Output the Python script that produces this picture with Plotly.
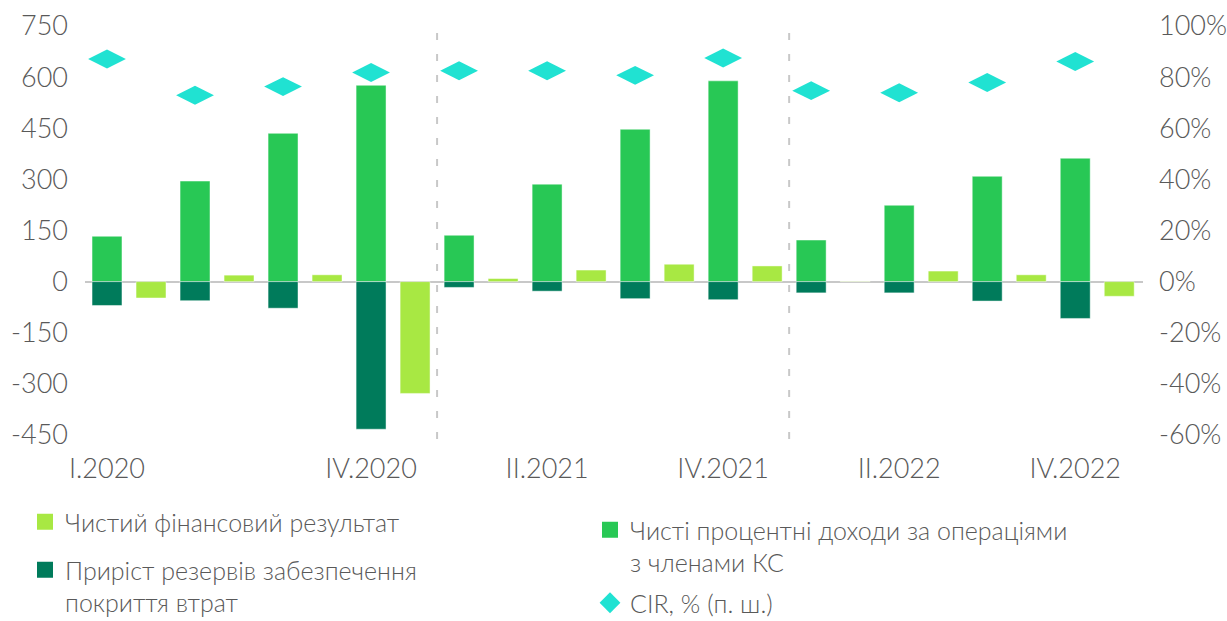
import plotly.graph_objects as go

quarters = ["I.2020", "II.2020", "III.2020", "IV.2020",
            "I.2021", "II.2021", "III.2021", "IV.2021",
            "I.2022", "II.2022", "III.2022", "IV.2022"]
shown_labels = ["I.2020", "IV.2020", "II.2021", "IV.2021", "II.2022", "IV.2022"]

net_interest = [133, 295, 435, 576, 136, 286, 447, 589, 122, 224, 309, 362]
reserves = [-70, -56, -78, -433, -17, -28, -50, -53, -33, -33, -57, -108]
net_result = [-48, 19, 20, -328, 9, 34, 51, 46, 1, 31, 20, -43]
cir = [87.1, 72.9, 76.3, 81.8, 82.5, 82.5, 80.7, 87.5, 74.7, 73.9, 77.9, 86.1]

left_ticks = [-450, -300, -150, 0, 150, 300, 450, 600, 750]
left_ticktext = ["-450", "-300", "-150", "0", "150", "300", "450", "600", "750"]
right_ticks = [-60, -40, -20, 0, 20, 40, 60, 80, 100]
right_ticktext = ["-60%", "-40%", "-20%", "0%", "20%", "40%", "60%", "80%", "100%"]

name_result = "Чистий фінансовий результат"
name_reserves = "Приріст резервів забезпечення<br>покриття втрат"
name_interest = "Чисті процентні доходи за операціями<br>з членами КС"
name_cir = "CIR, % (п. ш.)"

C_LIGHT = "#A8E843"
C_GREEN = "#28C855"
C_DARK = "#007B5B"
C_CIR = "#20E2D2"
TXT = "#595959"
FONT = "Lato"

x = list(range(len(quarters)))
tickvals = [quarters.index(q) for q in shown_labels]

W = 0.34
edge = dict(width=1, color="rgba(255,255,255,0.45)")

fig = go.Figure()
fig.add_trace(go.Bar(x=x, y=net_interest, width=W, offset=-W / 2,
                     marker=dict(color=C_GREEN, line=edge), showlegend=False))
fig.add_trace(go.Bar(x=x, y=reserves, width=W, offset=-W / 2,
                     marker=dict(color=C_DARK, line=edge), showlegend=False))
fig.add_trace(go.Bar(x=x, y=net_result, width=W, offset=0.5 - W / 2,
                     marker=dict(color=C_LIGHT, line=edge), showlegend=False))
fig.add_trace(go.Scatter(x=x, y=cir, yaxis="y2", mode="markers",
                         marker=dict(symbol="diamond-wide", size=27, color=C_CIR),
                         showlegend=False))

# legend entries
fig.add_trace(go.Scatter(x=[None], y=[None], mode="markers", name=name_result,
                         marker=dict(symbol="square", size=16, color=C_LIGHT), legend="legend"))
fig.add_trace(go.Scatter(x=[None], y=[None], mode="markers", name=name_reserves,
                         marker=dict(symbol="square", size=16, color=C_DARK), legend="legend2"))
fig.add_trace(go.Scatter(x=[None], y=[None], mode="markers", name=name_interest,
                         marker=dict(symbol="square", size=16, color=C_GREEN), legend="legend3"))
fig.add_trace(go.Scatter(x=[None], y=[None], mode="markers", name=name_cir,
                         marker=dict(symbol="diamond", size=16, color=C_CIR), legend="legend4"))

for xv in (3.75, 7.75):
    fig.add_shape(type="line", xref="x", yref="paper", x0=xv, x1=xv, y0=-0.01, y1=1.0,
                  line=dict(color="#C8C8C8", width=2, dash="7px,14px"))

L, PW, PH = 85, 1058, 409

def px(p):
    return (p - L) / PW

def py(p):
    return (435 - p) / PH

leg_common = dict(bgcolor="rgba(0,0,0,0)", font=dict(family=FONT, size=25, color=TXT, weight=300),
                  xanchor="left", yanchor="middle", itemwidth=30, valign="top")
tf = dict(size=27, color=TXT, family=FONT, weight=300)

fig.update_layout(
    width=1227, height=621,
    margin=dict(l=85, r=84, t=26, b=186, autoexpand=False),
    paper_bgcolor="white", plot_bgcolor="white",
    barmode="overlay",
    font=dict(family=FONT, color=TXT, weight=300),
    xaxis=dict(range=[-0.25, 11.77], tickvals=tickvals, ticktext=shown_labels,
               showgrid=False, zeroline=False, showline=False, ticks="",
               tickfont=tf, ticklabelstandoff=15),
    yaxis=dict(range=[-450, 750], tickvals=left_ticks, ticktext=left_ticktext, showgrid=False,
               zeroline=True, zerolinecolor="#C8C8C8", zerolinewidth=2,
               showline=False, ticks="", tickfont=tf, ticklabelstandoff=16),
    yaxis2=dict(range=[-60, 100], tickvals=right_ticks, ticktext=right_ticktext,
                overlaying="y", side="right",
                showgrid=False, zeroline=False, showline=False, ticks="",
                tickfont=tf, ticklabelstandoff=15),
    legend=dict(x=px(25), y=py(522), **leg_common),
    legend2=dict(x=px(25), y=py(586), **leg_common),
    legend3=dict(x=px(590), y=py(546), **leg_common),
    legend4=dict(x=px(590), y=py(603), **leg_common),
)

fig.write_html("out.html", config={"displayModeBar": False},
               post_script="document.body.style.margin='0';document.body.style.overflow='hidden';")
